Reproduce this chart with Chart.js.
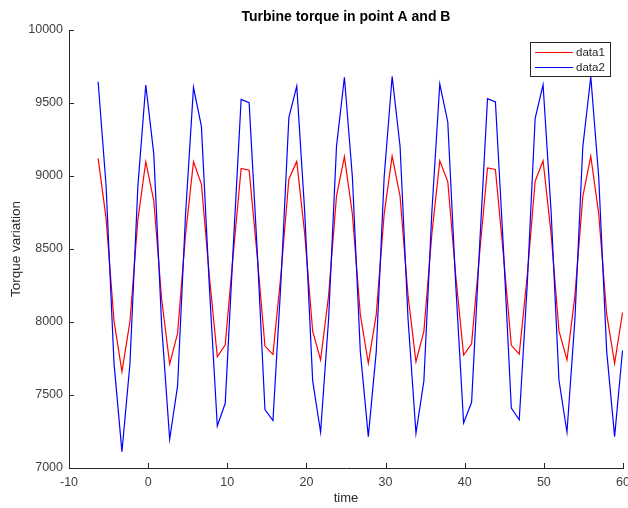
<!DOCTYPE html>
<html lang="en">
<head>
  <meta charset="UTF-8" />
  <title>Turbine torque in point A and B</title>
  <script src="https://cdn.jsdelivr.net/npm/chart.js"></script>
  <style>
    html, body {
      margin: 0;
      padding: 0;
      background: #fff;
    }
    #wrap {
      width: 628px;
      height: 508px;
    }
  </style>
</head>
<body>
  <div id="wrap"><canvas id="torqueChart" width="628" height="508"></canvas></div>

  <script>
    const chartTitle = "Turbine torque in point A and B";
    const xLabel = "time";
    const yLabel = "Torque variation";

    const time = [-6.32, -5.32, -4.31, -3.31, -2.30, -1.30, -0.30, 0.71, 1.71, 2.72,
      3.72, 4.72, 5.73, 6.73, 7.74, 8.74, 9.74, 10.75, 11.75, 12.76,
      13.76, 14.76, 15.77, 16.77, 17.78, 18.78, 19.78, 20.79, 21.79, 22.80,
      23.80, 24.80, 25.81, 26.81, 27.82, 28.82, 29.82, 30.83, 31.83, 32.84,
      33.84, 34.84, 35.85, 36.85, 37.86, 38.86, 39.86, 40.87, 41.87, 42.88,
      43.88, 44.88, 45.89, 46.89, 47.90, 48.90, 49.90, 50.91, 51.91, 52.92,
      53.92, 54.92, 55.93, 56.93, 57.94, 58.94, 59.94];

    // point A
    const data1 = [9121, 8713, 8006, 7660, 8002, 8700, 9098, 8832, 8156, 7712,
      7922, 8595, 9098, 8945, 8310, 7762, 7844, 8463, 9052, 9040,
      8463, 7835, 7778, 8320, 8978, 9100, 8605, 7937, 7740, 8181,
      8862, 9133, 8739, 8051, 7717, 8051, 8739, 9136, 8862, 8181,
      7728, 7936, 8604, 9104, 8962, 8320, 7774, 7850, 8462, 9055,
      9045, 8465, 7840, 7780, 8317, 8964, 9105, 8607, 7939, 7740,
      8179, 8859, 9135, 8742, 8054, 7717, 8065];

    // point B
    const data2 = [9646, 8938, 7715, 7112, 7712, 8927, 9623, 9153, 7975, 7197,
      7562, 8731, 9607, 9340, 8237, 7288, 7443, 8511, 9525, 9502,
      8511, 7400, 7325, 8262, 9400, 9615, 8756, 7597, 7245, 8020,
      9203, 9676, 8991, 7796, 7215, 7795, 8991, 9682, 9204, 8021,
      7238, 7596, 8755, 9630, 9370, 8263, 7308, 7450, 8508, 9530,
      9508, 8515, 7410, 7330, 8257, 9395, 9625, 8761, 7601, 7245,
      8016, 9199, 9680, 8995, 7799, 7215, 7805];

    const xTicks = [-10, 0, 10, 20, 30, 40, 50, 60];
    const yTicks = [7000, 7500, 8000, 8500, 9000, 9500, 10000];

    const axisColor = "#262626";
    const fontFamily = "'Liberation Sans', Arial, sans-serif";

    const toPoints = (ys) => time.map((t, i) => ({ x: t, y: ys[i] }));

    // ticks pointing inward, titles and the legend box
    const decorations = {
      id: "decorations",
      afterDraw(chart) {
        const { ctx, chartArea: a, scales: { x, y } } = chart;
        ctx.save();

        ctx.strokeStyle = axisColor;
        ctx.lineWidth = 1;
        ctx.beginPath();
        xTicks.forEach(v => {
          const px = Math.round(x.getPixelForValue(v)) + 0.5;
          ctx.moveTo(px, a.bottom);
          ctx.lineTo(px, a.bottom - 5);
        });
        yTicks.forEach(v => {
          const py = Math.round(y.getPixelForValue(v)) + 0.5;
          ctx.moveTo(a.left, py);
          ctx.lineTo(a.left + 5, py);
        });
        ctx.stroke();

        ctx.fillStyle = "#000";
        ctx.textAlign = "center";
        ctx.textBaseline = "middle";
        ctx.font = "bold 14px " + fontFamily;
        ctx.fillText(chartTitle, (a.left + a.right) / 2, 17);

        ctx.fillStyle = axisColor;
        ctx.font = "13px " + fontFamily;
        ctx.fillText(xLabel, (a.left + a.right) / 2, 498);

        ctx.save();
        ctx.translate(16, (a.top + a.bottom) / 2);
        ctx.rotate(-Math.PI / 2);
        ctx.font = "13.5px " + fontFamily;
        ctx.fillText(yLabel, 0, 0);
        ctx.restore();

        // legend
        const lx = 530.5, ly = 42.5, lw = 80, lh = 34;
        ctx.fillStyle = "#fff";
        ctx.fillRect(lx, ly, lw, lh);
        ctx.strokeStyle = axisColor;
        ctx.strokeRect(lx, ly, lw, lh);

        const entries = [
          { label: "data1", color: "#ff0000", y: 52.5 },
          { label: "data2", color: "#0000ff", y: 67.5 }
        ];
        ctx.textAlign = "left";
        ctx.font = "11.5px " + fontFamily;
        entries.forEach(e => {
          ctx.strokeStyle = e.color;
          ctx.lineWidth = 1.2;
          ctx.beginPath();
          ctx.moveTo(535, e.y);
          ctx.lineTo(573, e.y);
          ctx.stroke();
          ctx.fillStyle = axisColor;
          ctx.fillText(e.label, 576, e.y);
        });

        ctx.restore();
      }
    };

    new Chart(document.getElementById("torqueChart"), {
      type: "line",
      data: {
        datasets: [
          {
            label: "data1",
            data: toPoints(data1),
            borderColor: "#ff0000",
            borderWidth: 1.2,
            pointRadius: 0,
            tension: 0,
            fill: false,
            order: 1
          },
          {
            label: "data2",
            data: toPoints(data2),
            borderColor: "#0000ff",
            borderWidth: 1.2,
            pointRadius: 0,
            tension: 0,
            fill: false,
            order: 0
          }
        ]
      },
      options: {
        responsive: false,
        animation: false,
        layout: {
          padding: { top: 30, right: 5, left: 0, bottom: 0 }
        },
        plugins: {
          legend: { display: false },
          title: { display: false },
          tooltip: { enabled: false }
        },
        scales: {
          x: {
            type: "linear",
            min: -10,
            max: 60,
            afterBuildTicks: (s) => { s.ticks = xTicks.map(v => ({ value: v })); },
            afterFit: (s) => {
              s.height = 40;
              s.paddingLeft = 0;
              s.paddingRight = 0;
            },
            grid: { drawOnChartArea: false, drawTicks: false },
            border: { display: true, color: axisColor, width: 1 },
            ticks: {
              color: "#404040",
              font: { family: fontFamily, size: 12.5 },
              padding: 7,
              maxRotation: 0,
              autoSkip: false,
              callback: (v) => String(v)
            }
          },
          y: {
            type: "linear",
            min: 7000,
            max: 10000,
            afterBuildTicks: (s) => { s.ticks = yTicks.map(v => ({ value: v })); },
            afterFit: (s) => {
              s.width = 69;
              s.paddingTop = 0;
              s.paddingBottom = 0;
            },
            grid: { drawOnChartArea: false, drawTicks: false },
            border: { display: true, color: axisColor, width: 1 },
            ticks: {
              color: "#404040",
              font: { family: fontFamily, size: 12.5 },
              padding: 6,
              autoSkip: false,
              callback: (v) => String(v)
            }
          }
        }
      },
      plugins: [decorations]
    });
  </script>
</body>
</html>
